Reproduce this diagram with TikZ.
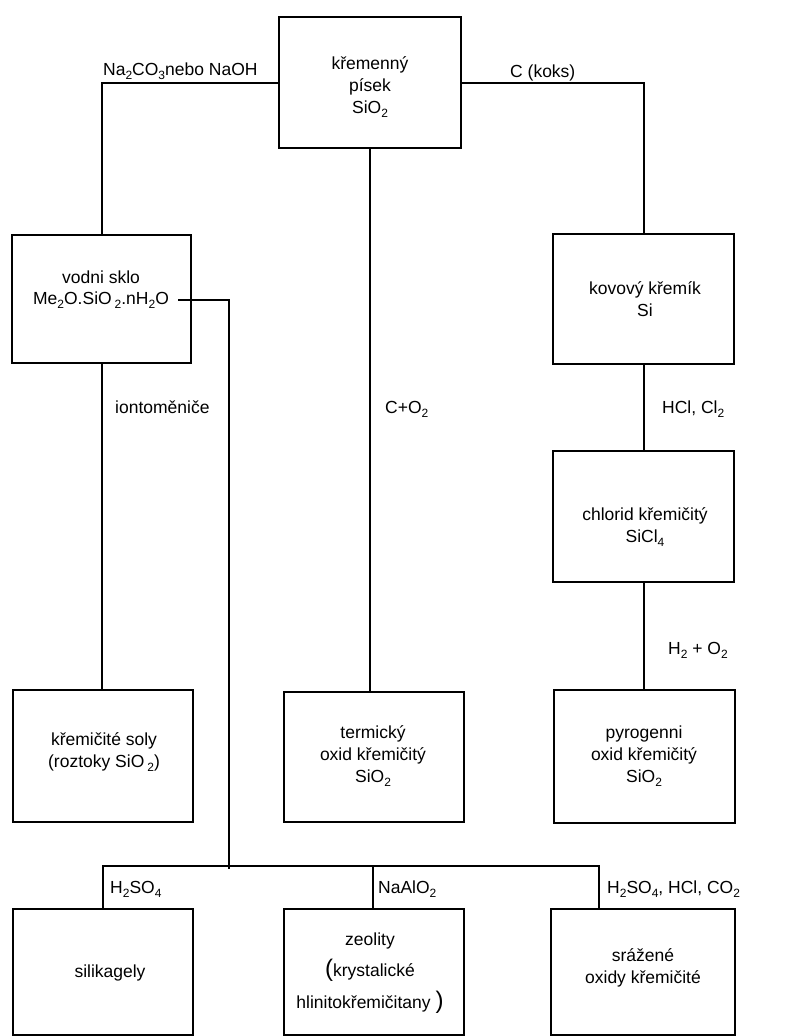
\documentclass[tikz,border=0pt]{standalone}
\usepackage{fontspec}
\setmainfont{Liberation Sans}
\newcommand{\lo}[1]{\raisebox{-0.5ex}{\fontsize{12}{12}\selectfont #1}}
\newcommand{\bigp}[1]{{\fontsize{24}{24}\selectfont #1}}
\begin{document}
\begin{tikzpicture}[x=1pt,y=-1pt,
  box/.style={draw, line width=2pt, inner sep=0pt, outer sep=0pt},
  txt/.style={font=\fontsize{17.5}{22}\selectfont, align=center, inner sep=0pt},
  lbl/.style={font=\fontsize{17.5}{22}\selectfont, inner sep=0pt, anchor=base west},
  con/.style={line width=2pt}]
\useasboundingbox[fill=white] (0,0) rectangle (796,1036);

% boxes
\node[box, minimum width=182pt, minimum height=131pt] (quartz) at (370,82.5) {};
\node[txt] (quartzT) at (370,87) {křemenný\\písek\\SiO\lo{2}};

\node[box, minimum width=179pt, minimum height=128pt] (vodni) at (101.5,299) {};
\node[txt] (vodniT1) at (101,277) {vodni sklo};
\node[txt] (vodniT2) at (101,300) {Me\lo{2}O.SiO\,\lo{2}.nH\lo{2}O};

\node[box, minimum width=181pt, minimum height=130pt] (kov) at (643.5,299) {};
\node[txt] (kovT) at (645,299) {kovový křemík\\Si};

\node[box, minimum width=181pt, minimum height=131pt] (chlor) at (643.5,516.5) {};
\node[txt] (chlorT) at (645,527) {chlorid křemičitý\\SiCl\lo{4}};

\node[box, minimum width=180pt, minimum height=132pt] (soly) at (103,756) {};
\node[txt] (solyT) at (104,752) {křemičité soly\\(roztoky SiO\,\lo{2})};

\node[box, minimum width=180pt, minimum height=130pt] (term) at (374,757) {};
\node[txt] (termT) at (373,756) {termický\\oxid křemičitý\\SiO\lo{2}};

\node[box, minimum width=181pt, minimum height=133pt] (pyro) at (644.5,756.5) {};
\node[txt] (pyroT) at (644,756) {pyrogenni\\oxid křemičitý\\SiO\lo{2}};

\node[box, minimum width=180pt, minimum height=126pt] (silik) at (103,972) {};
\node[txt] (silikT) at (110,973) {silikagely};

\node[box, minimum width=180pt, minimum height=126pt] (zeol) at (374,972) {};
\node[txt, font=\fontsize{17.5}{31.5}\selectfont] (zeolT) at (370,973) {zeolity\\\bigp{(}krystalické\\hlinitokřemičitany \bigp{)}};

\node[box, minimum width=184pt, minimum height=126pt] (sraz) at (643,972) {};
\node[txt] (srazT) at (643,968) {srážené\\oxidy křemičité};

% connectors
\draw[con] (quartz.west) -| (vodni.north);
\draw[con] (quartz.east) -| (kov.north);
\draw[con] (quartz.south) -- (quartz.south |- term.north);
\draw[con] (vodni.south) -- (vodni.south |- soly.north);
\draw[con] (kov.south) -- (chlor.north);
\draw[con] (chlor.south) -- (chlor.south |- pyro.north);

\coordinate (busL) at (103,866);
\coordinate (busM) at (373,866);
\coordinate (busR) at (599,866);
\coordinate (busJ) at (229,869);
\draw[con] (busL |- silik.north) -- (busL) -- (busR) -- (busR |- sraz.north);
\draw[con] (busM) -- (busM |- zeol.north);
\draw[con] ([xshift=9pt]vodniT2.east) -| (busJ);

% labels
\node[lbl] (l1) at (103,75) {Na\lo{2}CO\lo{3}nebo NaOH};
\node[lbl] (l2) at (510,77) {C (koks)};
\node[lbl] (l3) at (115,413) {iontoměniče};
\node[lbl] (l4) at (385,413) {C+O\lo{2}};
\node[lbl] (l5) at (662,413) {HCl, Cl\lo{2}};
\node[lbl] (l6) at (668,654) {H\lo{2} + O\lo{2}};
\node[lbl] (l7) at (110,893) {H\lo{2}SO\lo{4}};
\node[lbl] (l8) at (378,893) {NaAlO\lo{2}};
\node[lbl] (l9) at (607,893) {H\lo{2}SO\lo{4}, HCl, CO\lo{2}};
\end{tikzpicture}
\end{document}
